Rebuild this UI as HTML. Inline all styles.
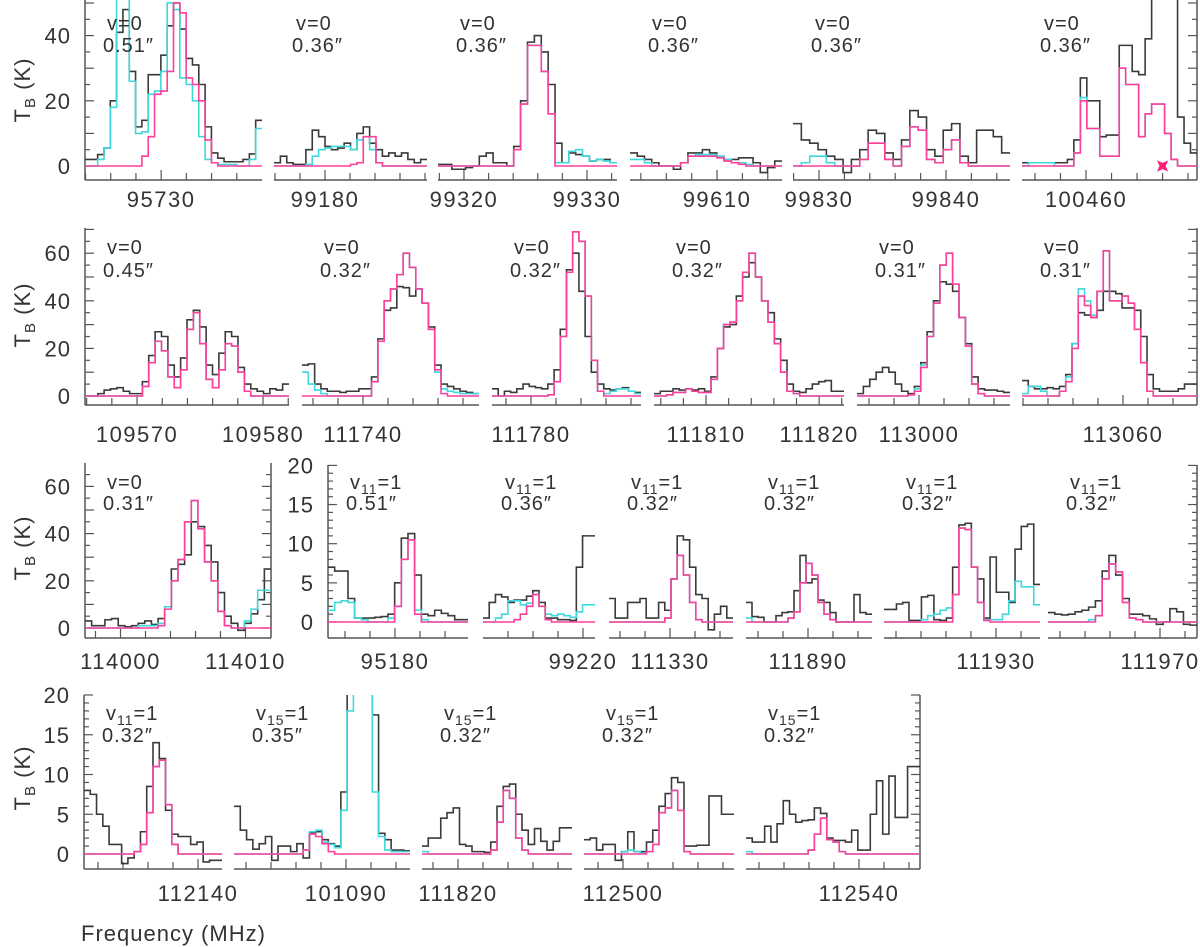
<!DOCTYPE html>
<html><head><meta charset="utf-8"><style>
html,body{margin:0;padding:0;background:#fff;}
svg{display:block;}
text{font-family:"Liberation Sans",sans-serif;fill:#333;}
</style></head><body>
<svg id="chart" xmlns="http://www.w3.org/2000/svg" width="1200" height="947" viewBox="0 0 1200 947">
<defs id="defs"></defs>
</svg>
<script>
// ---------- DATA (brightness temperatures in K, one value per channel) ----------
// Row 1
const r1p1_obs  = [2,2,3.5,5.5,20,41,48,29,12,14,28,28,34,43,50,42,33,31,25,12,4,2.4,1.3,1.3,1.3,2,3.7,14];
const r1p1_cyan = [0,0,2,5.5,18,55,55,26,10,10.5,22,23,29,50,48,27,25,20,9,2,1,0.5,0.5,0.5,0,0,2,11.5];
const r1p1_pink = [0,0,0,0,0,0,0,0,0,3,9,22,23,29,50,47,27,25,20,8,1,0,0,0,0,0,0,0];
const r1p2_obs  = [1,3,1,0.5,0.5,5,11,9,6,5,5.5,7,5,10,12,7,5,3,4,3,4,2,1,2];
const r1p2_cyan = [0,0,0,0,0,0.5,3,5,5.5,6,6,6,5,8,9,5,1,0,0,0,0,0,0,0];
const r1p2_pink = [0,0,0,0,0,0,0,0,0,0,0,0,0.5,1,9,9,1,0,0,0,0,0,0,0];
const r1p3_obs  = [0.5,0.5,-1,-1,-0.5,0,3,4,1,1,0,6,20,38,40,35,25,7,1,4,3.5,3,1.5,2,2,1];
const r1p3_cyan = [0,0,0,0,0,0,0,0,0,0,0,5,19,37,37,29,16,1,1,4.5,5,3,1.5,2,1.5,1];
const r1p3_pink = [0,0,0,0,0,0,0,0,0,0,0,5,19,37,37,29,16,0,0,0,0,0,0,0,0,0];
const r1p4_obs  = [4,3,2,1,0,0,-1,1,4,4,5,4,3,2,2,2.5,2.5,1,-2,-0.5,1.5];
const r1p4_cyan = [2,2,1,0,0,0,0,1,3,3.5,3.5,3.5,3,2,1,1,0.5,0,0,0,0];
const r1p4_pink = [0,0,0,0,0,0,0,1,3,3,3,3,2.5,1.5,1,0.5,0,0,0,0,0];
const r1p5_obs  = [13,8,7,5,3,2,-2,2,5,11,10,4,2,8,17,15,5,3,11,13,3,1,11,11,9,4];
const r1p5_cyan = [0,1,3,3,1,0,0,0,2,7,7,2,0,6,12,11,2,1,5,8,1,0,0,0,0,0];
const r1p5_pink = [0,0,0,0,0,0,0,0,2,7,7,2,0,6,12,11,2,1,5,8,1,0,0,0,0,0];
const r1p6_obs  = [1,1,1,1,1,1,1,2,8,27,20,20,9,9.5,9.5,37,37,29,28,39,60,60,60,60,15,7,4];
const r1p6_cyan = [0,1,1,1,1,0,0,0,4,21,11.5,11.5,3,3,3,30,25,25,9,16,19,19,10,2,0,0,0];
const r1p6_pink = [0,0,0,0,0,0,0,0,4,20,11.5,11.5,3,3,3,30,25,25,9,16,19,19,10,2,0,0,0];
const r1p6_star = [100463.0, 0];
// Row 2
const r2p1_obs  = [0,0,1,2.5,3,3.5,2,1,1,6,17,27,25,13,8,16,32,36,29,13,9,18,27,25,12,5,3,2,1,3,2.5,5];
const r2p1_pink = [0,0,0,0,0,0,0,0,0,4,14,23,19,8,3.5,11,28,35,22,7,3.5,11,22,21,10,2,0,0,0,0,0,0];
const r2p1_cyan = [0,0,0,0,0,0,0,0,0,4,14,23,19,8,3.5,11,28,35,22,7,3.5,11,22,21,10,2,0,0,0,0,0,0];
const r2p2_obs  = [13,13.5,5,3,2,2,1.5,2,2,3,3,8,24,36,37,46,45.5,42,45,39,29,13,5,4,3,2,1.5,1];
const r2p2_cyan = [10,5,2.5,1,0,0,0,0,0,0,0,6,23,40,45,51,60,54,45,39,28,10,3,2,1.5,1,1,1];
const r2p2_pink = [0,0,0,0,0,0,0,0,0,0,0,6,23,40,45,51,60,54,45,39,28,11,1,0,0,0,0,0];
const r2p3_obs  = [3,0,2,1.5,3,5,4,3.5,3,5,11,28,53,60,44,25,10,5,3,2.5,3,3.5,2,1.5];
const r2p3_cyan = [0,0,0,0,0,0,0,0,0,0.5,6,25,52,69,65,42,15,2,1,2,3,3,2,1];
const r2p3_pink = [0,0,0,0,0,0,0,0,0,0.5,6,25,52,69,65,42,15,2,0,0,0,0,0,0];
const r2p4_obs  = [1,2,2,3,2.5,3,2.5,3,2,8,20,29,30,42,50,56,50,40,35,24,15,5,2,1.5,3,5,6,6.5,2,2];
const r2p4_cyan = [0,0,0.5,1.5,1.5,3,2,1.5,1.5,7,20,30,31,40,52,60,50,40,31,22,10,2,1,0,0,0,0,0,0,0];
const r2p4_pink = [0,0,0.5,1.5,1.5,3,2,1.5,1.5,7,20,30,31,40,52,60,50,40,31,22,10,2,1,0,0,0,0,0,0,0];
const r2p5_obs  = [1,4,7,10,12,10,5,2,1,4,14,27,40,48,47,44,33,22,8,3,2.5,2.5,2,1.5];
const r2p5_cyan = [0,0,0,0,0,0,0,0,0.5,3,13,25,39,55,60,47,33,21,5,1,0,0,0,0];
const r2p5_pink = [0,0,0,0,0,0,0,0,0.5,2,12,25,39,55,60,47,33,21,5,1,0,0,0,0];
const r2p6_obs  = [6.5,4,3,3,3.5,3,4,9,22,35,34,33,36,44,44,43,37,37,36,25,9,3,2,2,2,3,5,5];
const r2p6_cyan = [1,4,4,2,0,0,2,8,22,45,40,34,44,61,40,40,42,39,28,14,2,0,0,0,0,0,0,0];
const r2p6_pink = [0,0,0,0,0,0,2,6,20,42,38,33,44,61,40,40,42,39,28,14,2,0,0,0,0,0,0,0];
// Row 3
const r3p1_obs  = [3,1,1,3.5,4,1,0.5,1,2,3,1.5,4,9,25,27,31,45,43,35,28,15,5,2,-1,2,6,12,25];
const r3p1_cyan = [0,0,0,0,0,0,0,0,1,1,1,2,9,20,29,45,54,42,28,20,7,1,0,0,3,8,16,16];
const r3p1_pink = [0,0,0,0,0,0,0,0,0,0,0,1,8,20,29,45,54,42,28,20,7,1,0,0,0,0,0,0];
const r3p2_obs  = [7,6.5,6.5,3,0.5,0.5,0.5,0.6,0.7,1,5,10.7,11.3,6,1,0.8,1.5,1.1,0.8,0.3,0.3];
const r3p2_cyan = [1.5,2.5,2.7,2.5,0.5,0.3,0,0,0,0.5,2,8,10.5,1.5,0.3,0,0,0,0,0,0];
const r3p2_pink = [0,0,0,0,0,0,0,0,0,0,2,8,10.5,1,0,0,0,0,0,0,0];
const r3p3_obs  = [0.5,2.5,3.5,3.2,2.5,2.8,2.8,3.3,4,2.5,0.5,0.5,0.3,0.3,0.2,7,11,11];
const r3p3_cyan = [0,0,0.5,1,2.7,2.7,2.2,2.4,3.5,2,1,0.8,1,0.8,0.6,1.3,2.2,2.2];
const r3p3_pink = [0,0,0,0,0,0.3,1,2,3.5,2,0.3,0,0,0,0,0,0,0];
const r3p4_obs  = [3,0.5,0.5,2.5,2.5,3,0.5,0.5,2.5,1.5,5.5,11,10.5,7,3.5,3,-1,1,2,0.5];
const r3p4_cyan = [0,0,0,0,0,0,0,0,0,0.5,5.5,8.5,6,2.5,0.3,0,0,0,0,0];
const r3p4_pink = [0,0,0,0,0,0,0,0,0,0.5,5.5,8.5,6,2.5,0.3,0,0,0,0,0];
const r3p5_obs  = [2.5,0.7,0.6,0,0,0.8,1.2,1.3,4,8.5,5,5.5,2.8,2.5,1.2,0,0,0,3.5,1.2,1];
const r3p5_cyan = [0.5,0,0,0,0,0,0,0.5,1.3,5,7.5,6,2.5,1,0.3,0,0,0,0,0,0];
const r3p5_pink = [0,0,0,0,0,0,0,0.5,1.3,5,7.5,6,2.5,1,0.3,0,0,0,0,0,0];
const r3p6_obs  = [1.6,1.6,2.3,2.5,0.2,0.2,3.2,3.4,0.3,0.2,0.5,7,12.4,12.6,7,5.5,0.5,8.3,3.8,3.8,2.5,9.3,12.2,12.5,4.8];
const r3p6_cyan = [0,0,0,0,0,0,0.3,0.8,1,1.5,1.8,3.5,12,11.8,7,2.5,0.3,0.3,0.3,1,2.7,5.2,4.5,4.5,2.2];
const r3p6_pink = [0,0,0,0,0,0,0,0,0,0,0,3.5,12,11.8,7,2.5,0.2,0,0,0,0,0,0,0,0];
const r3p7_obs  = [1.2,1,0.9,1,1.3,1.5,1.9,2.7,6.5,8.5,6,3,1,1,0.8,0.4,-0.3,0,1.7,1.3,-0.3,-0.4];
const r3p7_cyan = [0,0,0,0,0,0,0.3,0.8,5.5,7.4,6.4,2.5,0.5,0.3,0,0,0,0,0,0,0,0];
const r3p7_pink = [0,0,0,0,0,0,0,0.8,5.5,7.4,6.4,2.5,0.5,0.3,0,0,0,0,0,0,0,0];
// Row 4
const r4p1_obs  = [8,7.5,5,3.5,1.2,1.2,-1.2,-0.5,0.3,2.8,8.5,14,12,5.5,2.5,2.2,2.2,1.2,1.5,-1,-0.8,-0.8];
const r4p1_cyan = [0,0,0,0,0,0,0,0,0.3,1.2,5.2,11,11.8,6.2,1.2,0,0,0,0,0,0,0];
const r4p1_pink = [0,0,0,0,0,0,0,0,0.3,1.2,5.2,11,11.8,6.2,1.2,0,0,0,0,0,0,0];
const r4p2_obs  = [6,3,1.8,0.6,1.3,2.2,-0.8,1,1,0.3,1.3,-0.5,2.7,2.8,1.8,1.3,1,7.8,25,25,25,25,17.5,2.6,1.8,0.5,0.5,0.4];
const r4p2_cyan = [0,0,0,0,0,0,0,0,0,0,0,0.5,2.8,3,1.5,1.2,0.8,5.5,18,25,25,25,7.8,2.2,0.5,0.3,0.3,0.3];
const r4p2_pink = [0,0,0,0,0,0,0,0,0,0,0,0.5,2.5,2.2,1.3,0.3,0,0,0,0,0,0,0,0,0,0,0,0];
const r4p3_obs  = [1,2,2,4.5,5.2,5.8,1.2,1,0.3,0.3,0.2,1.5,6,8.5,8.8,5,3,1.2,3.2,1.6,0.5,1.6,3.3,3.3];
const r4p3_cyan = [0.3,0,0,0,0,0,0,0,0,0,0,0.5,4,8,7,2,0.5,0,0,0,0,0,0,0];
const r4p3_pink = [0,0,0,0,0,0,0,0,0,0,0,0.5,4,8,7,2,0.5,0,0,0,0,0,0,0];
const r4p4_obs  = [1.8,2,0.5,1.2,1.2,-0.8,0.3,2.8,0.3,0.3,1.5,3,6,7.6,9.6,9,1,1,1.1,1.1,7.3,7.3,5,5];
const r4p4_cyan = [0,0,0,0,0,0,0.3,0.5,0.3,0.1,0.3,1.2,5.2,5.8,8,5.5,0.3,0,0,0,0,0,0,0];
const r4p4_pink = [0,0,0,0,0,0,0,0,0,0,0.3,1.2,5.2,5.8,8,5.5,0.3,0,0,0,0,0,0,0];
const r4p5_obs  = [2,1.5,1.5,3.5,1.5,3.8,6.7,5,4,4.2,4.3,5.8,5.1,2,1.7,1.7,1.5,3,0.5,0.5,5,9.2,2.5,9.8,4.6,4.6,11,11];
const r4p5_cyan = [0.3,0,0,0,0,0,0,0,0,0,0.5,2.5,4.5,1.8,1.5,0.3,0,0,0,0,0,0,0,0,0,0,0,0];
const r4p5_pink = [0,0,0,0,0,0,0,0,0,0,0.5,2.5,4.5,1.8,1.5,0.3,0,0,0,0,0,0,0,0,0,0,0,0];

// tick label values
const r1_xlabels = [[95730],[99180],[99320,99330],[99610],[99830,99840],[100460]];
const r2_xlabels = [[109570,109580],[111740],[111780],[111810,111820],[113000],[113060]];
const r3_xlabels = [[114000,114010],[95180],[99220],[111330],[111890],[111930],[111970]];
const r4_xlabels = [[112140],[101090],[111820],[112500],[112540]];
const ylabels_big = [0,20,40,60];
const ylabels_small = [0,5,10,15,20];
const vib_labels = ["v=0","v=0","v=0","v=0","v=0","v=0","v=0","v=0","v=0","v=0","v=0","v=0","v=0",
  "v11=1","v11=1","v11=1","v11=1","v11=1","v11=1","v11=1","v15=1","v15=1","v15=1","v15=1"];
const beam_labels = ["0.51","0.36","0.36","0.36","0.36","0.36","0.45","0.32","0.32","0.32","0.31","0.31","0.31",
  "0.51","0.36","0.32","0.32","0.32","0.32","0.32","0.35","0.32","0.32","0.32"];

// ---------- LAYOUT ----------
const NS="http://www.w3.org/2000/svg";
const svg=document.getElementById('chart');
const defs=document.getElementById('defs');
function mk(tag,attrs,parent){const e=document.createElementNS(NS,tag);for(const k in attrs)e.setAttribute(k,attrs[k]);(parent||svg).appendChild(e);return e;}

const groups=[
 {top:0,bottom:180,zero:166,k:3.26,ystep:5,ylab:ylabels_big,xlabY:199,vY:30,bY:52,
  panels:[
   {x0:85,x1:262,f0:95726.98,f1:95734.0,st:1,obs:r1p1_obs,cyan:r1p1_cyan,pink:r1p1_pink,lab:r1_xlabels[0]},
   {x0:274,x1:427,f0:99177.96,f1:99184.08,st:1,obs:r1p2_obs,cyan:r1p2_cyan,pink:r1p2_pink,lab:r1_xlabels[1]},
   {x0:438,x1:617,f0:99317.89,f1:99332.44,st:2,obs:r1p3_obs,cyan:r1p3_cyan,pink:r1p3_pink,lab:r1_xlabels[2]},
   {x0:630,x1:782,f0:99606.57,f1:99612.56,st:1,obs:r1p4_obs,cyan:r1p4_cyan,pink:r1p4_pink,lab:r1_xlabels[3]},
   {x0:793,x1:1010,f0:99827.95,f1:99845.04,st:2,obs:r1p5_obs,cyan:r1p5_cyan,pink:r1p5_pink,lab:r1_xlabels[4]},
   {x0:1022,x1:1197,f0:100457.49,f1:100464.35,st:1,obs:r1p6_obs,cyan:r1p6_cyan,pink:r1p6_pink,lab:r1_xlabels[5],star:r1p6_star}
  ]},
 {top:228,bottom:405,zero:396,k:2.38,ystep:5,ylab:ylabels_big,xlabY:434,vY:254,bY:277,
  panels:[
   {x0:85,x1:289,f0:109565.87,f1:109582.06,st:2,obs:r2p1_obs,cyan:r2p1_cyan,pink:r2p1_pink,lab:r2_xlabels[0]},
   {x0:302,x1:479,f0:111737.56,f1:111744.64,st:1,obs:r2p2_obs,cyan:r2p2_cyan,pink:r2p2_pink,lab:r2_xlabels[1]},
   {x0:492,x1:641,f0:111778.44,f1:111784.4,st:1,obs:r2p3_obs,cyan:r2p3_cyan,pink:r2p3_pink,lab:r2_xlabels[2]},
   {x0:654,x1:844,f0:111805.4,f1:111822.2,st:2,obs:r2p4_obs,cyan:r2p4_cyan,pink:r2p4_pink,lab:r2_xlabels[3]},
   {x0:857,x1:1010,f0:112997.52,f1:113003.64,st:1,obs:r2p5_obs,cyan:r2p5_cyan,pink:r2p5_pink,lab:r2_xlabels[4]},
   {x0:1022,x1:1197,f0:113055.96,f1:113062.96,st:1,obs:r2p6_obs,cyan:r2p6_cyan,pink:r2p6_pink,lab:r2_xlabels[5]}
  ]},
 {top:463,bottom:638,zero:628,k:2.36,ystep:5,ylab:ylabels_big,xlabY:661,vY:489,bY:510,
  panels:[
   {x0:85,x1:271,f0:113997.16,f1:114012.04,st:2,obs:r3p1_obs,cyan:r3p1_cyan,pink:r3p1_pink,lab:r3_xlabels[0]}
  ]},
 {top:465,bottom:638,zero:622,k:7.83,ystep:1,ylab:ylabels_small,xlabY:661,vY:489,bY:510,
  panels:[
   {x0:328,x1:468,f0:95177.32,f1:95182.92,st:1,obs:r3p2_obs,cyan:r3p2_cyan,pink:r3p2_pink,lab:r3_xlabels[1]},
   {x0:483,x1:595,f0:99216.0,f1:99220.48,st:1,obs:r3p3_obs,cyan:r3p3_cyan,pink:r3p3_pink,lab:r3_xlabels[2]},
   {x0:609,x1:733,f0:111327.56,f1:111332.52,st:1,obs:r3p4_obs,cyan:r3p4_cyan,pink:r3p4_pink,lab:r3_xlabels[3]},
   {x0:746,x1:872,f0:111887.52,f1:111892.56,st:1,obs:r3p5_obs,cyan:r3p5_cyan,pink:r3p5_pink,lab:r3_xlabels[4]},
   {x0:884,x1:1040,f0:111925.52,f1:111931.76,st:1,obs:r3p6_obs,cyan:r3p6_cyan,pink:r3p6_pink,lab:r3_xlabels[5]},
   {x0:1048,x1:1197,f0:111965.52,f1:111971.48,st:1,obs:r3p7_obs,cyan:r3p7_cyan,pink:r3p7_pink,lab:r3_xlabels[6]}
  ]},
 {top:695,bottom:869,zero:854,k:7.95,ystep:1,ylab:ylabels_small,xlabY:893,vY:720,bY:742,
  panels:[
   {x0:84,x1:222,f0:112135.44,f1:112140.96,st:1,obs:r4p1_obs,cyan:r4p1_cyan,pink:r4p1_pink,lab:r4_xlabels[0]},
   {x0:234,x1:410,f0:101085.52,f1:101092.56,st:1,obs:r4p2_obs,cyan:r4p2_cyan,pink:r4p2_pink,lab:r4_xlabels[1]},
   {x0:422,x1:572,f0:111818.56,f1:111824.56,st:1,obs:r4p3_obs,cyan:r4p3_cyan,pink:r4p3_pink,lab:r4_xlabels[2]},
   {x0:584,x1:734,f0:112498.44,f1:112504.44,st:1,obs:r4p4_obs,cyan:r4p4_cyan,pink:r4p4_pink,lab:r4_xlabels[3]},
   {x0:746,x1:920,f0:112535.48,f1:112542.44,st:1,obs:r4p5_obs,cyan:r4p5_cyan,pink:r4p5_pink,lab:r4_xlabels[4]}
  ]}
];

const AX='#555';
let pidx=0;
groups.forEach((g,gi)=>{
  const yS=v=>g.zero-g.k*v;
  const ymax=(g.zero-g.top)/g.k;
  const ps=g.panels;
  const xl=ps[0].x0, xr=ps[ps.length-1].x1;
  [[xl,1],[xr,-1]].forEach(([ax,dir],si)=>{
    const line=mk('line',{x1:ax,y1:g.top,x2:ax,y2:g.bottom,stroke:AX,'stroke-width':1.5});
    
    
    for(let v=0;v<=ymax+1e-6;v+=g.ystep){
      const major=g.ylab.indexOf(Math.round(v*100)/100)>=0 || (g.ystep===5 && v%10===0);
      const len=major?9:5;
      mk('line',{x1:ax,y1:yS(v),x2:ax+dir*len,y2:yS(v),stroke:AX,'stroke-width':1.2});
    }
    if(si===0){
      g.ylab.forEach(v=>{
        if(v>ymax+0.01)return;
        const t=mk('text',{x:ax-14,y:yS(v)+8,'text-anchor':'end','font-size':22,'letter-spacing':'1'});
        t.textContent=String(v);
        
        
      });
    }
  });
  ps.forEach((p,pi)=>{
    const xS=f=>p.x0+(f-p.f0)/(p.f1-p.f0)*(p.x1-p.x0);
    const gEl=mk('g',{});
    
    
    const cid='clip'+pidx;
    const cp=mk('clipPath',{id:cid},defs);
    mk('rect',{x:p.x0,y:g.top,width:p.x1-p.x0,height:g.bottom-g.top},cp);
    const ax=mk('line',{x1:p.x0,y1:g.bottom,x2:p.x1,y2:g.bottom,stroke:AX,'stroke-width':1.5},gEl);
    
    
    const fs=Math.ceil(p.f0/p.st)*p.st;
    for(let f=fs;f<=p.f1+1e-6;f+=p.st){
      const major=p.lab.indexOf(Math.round(f))>=0;
      const x=xS(f);
      if(x<=p.x0+0.5||x>=p.x1-0.5)continue;
      mk('line',{x1:x,y1:g.bottom,x2:x,y2:g.bottom-(major?10:7),stroke:AX,'stroke-width':1.2},gEl);
    }
    p.lab.forEach(f=>{
      const t=mk('text',{x:xS(f),y:g.xlabY+8,'text-anchor':'middle','font-size':22,'letter-spacing':'1.5'},gEl);
      t.textContent=String(f);
      
      
    });
    const series=[[p.obs,'#3a3a3a','observed-spectrum'],[p.cyan,'#3fd8dc','total-model'],[p.pink,'#ff3d9a','species-model']];
    series.forEach(([arr,col,name])=>{
      const n=arr.length, w=(p.x1-p.x0)/n;
      const bx=i=>p.x0+i*w;
      let d='M'+bx(0)+','+yS(arr[0]);
      for(let i=0;i<n;i++){
        if(i>0)d+=' V'+yS(arr[i]);
        d+=' H'+bx(i+1);
      }
      const path=mk('path',{d:d,fill:'none',stroke:col,'stroke-width':1.6,'clip-path':'url(#'+cid+')'},gEl);
      
      
    });
    if(p.star){
      const sx=xS(p.star[0]), sy=yS(p.star[1]), r=8, q=2.2;
      const d=`M${sx},${sy-r} L${sx+q},${sy-q} L${sx+r},${sy} L${sx+q},${sy+q} L${sx},${sy+r} L${sx-q},${sy+q} L${sx-r},${sy} L${sx-q},${sy-q} Z`;
      const st=mk('path',{d:d,fill:'#ff1f7a',transform:`rotate(45 ${sx} ${sy})`},gEl);
      
      
    }
    const vl=vib_labels[pidx];
    const vt=mk('text',{x:p.x0+22,y:g.vY,'font-size':20,'letter-spacing':'1'},gEl);
    
    
    if(vl.length>3){
      const s1=mk('tspan',{},vt); s1.textContent='v';
      const s2=mk('tspan',{dy:5,'font-size':14},vt); s2.textContent=vl.slice(1,3);
      const s3=mk('tspan',{dy:-5},vt); s3.textContent=vl.slice(3);
    } else vt.textContent=vl;
    const bt=mk('text',{x:p.x0+18,y:g.bY,'font-size':20,'letter-spacing':'1'},gEl);
    bt.textContent=beam_labels[pidx]+'\u2033';
    
    
    pidx++;
  });
});

[[30,90],[30,315],[30,548],[30,778]].forEach(([x,y],i)=>{
  const t=mk('text',{x:x,y:y,transform:`rotate(-90 ${x} ${y})`,'text-anchor':'middle','font-size':22,'letter-spacing':'1'});
  
  
  const a=mk('tspan',{},t); a.textContent='T';
  const b=mk('tspan',{dy:5,'font-size':15},t); b.textContent='B';
  const c=mk('tspan',{dy:-5},t); c.textContent=' (K)';
});
const xt=mk('text',{x:81,y:941,'font-size':22,'letter-spacing':'1'});
xt.textContent='Frequency (MHz)';


</script>
</body></html>
